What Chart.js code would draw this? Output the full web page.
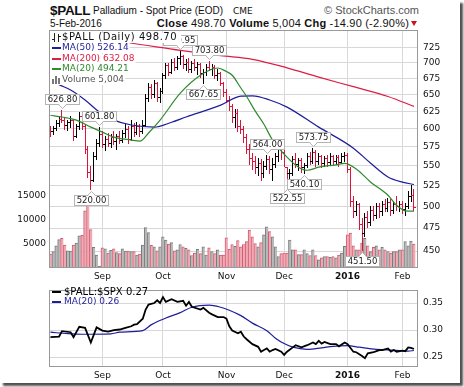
<!DOCTYPE html>
<html>
<head>
<meta charset="utf-8">
<script src="https://cdn.jsdelivr.net/npm/chart.js@4.4.1/dist/chart.umd.min.js"></script>
<style>
html,body{margin:0;padding:0;background:#fff;width:464px;height:387px;overflow:hidden;}
#frame{position:absolute;left:0;top:0;width:460px;height:383px;background:#fff;box-shadow:3px 3px 2px #505050;}
canvas{position:absolute;left:0;}
#c1{top:0;width:464px;height:286px;}
#c2{top:280px;width:464px;height:107px;}
.t{position:absolute;white-space:nowrap;line-height:1;color:#111;}
#tri{position:absolute;left:411px;top:21px;width:0;height:0;border-left:3px solid transparent;border-right:3px solid transparent;border-top:5px solid #cc1020;}
</style>
</head>
<body>
<div id="frame"></div>
<div class="t" style="left:50px;top:3px;font:bold 13.5px 'Liberation Sans',Arial,sans-serif;letter-spacing:-0.3px;">$PALL</div>
<div class="t" style="left:93px;top:5px;font:10px 'Liberation Sans',Arial,sans-serif;">Palladium - Spot Price (EOD)</div>
<div class="t" style="left:233px;top:6px;font:9px 'DejaVu Sans',sans-serif;">CME</div>
<div class="t" style="right:45px;top:4px;font:11px 'Liberation Sans',Arial,sans-serif;color:#555;">© StockCharts.com</div>
<div class="t" style="left:50px;top:18px;font:10px 'Liberation Sans',Arial,sans-serif;">5-Feb-2016</div>
<div class="t" style="right:55px;top:17px;font:11px 'Liberation Sans',Arial,sans-serif;letter-spacing:0.2px;"><b>Close</b> 498.70 <b>Volume</b> 5,004 <b>Chg</b> -14.90 (-2.90%)</div>
<div id="tri"></div>
<canvas id="c1" width="464" height="286"></canvas>
<canvas id="c2" width="464" height="107"></canvas>
<script>
// ---------- DATA ----------
// trading-day index 0 = 6-Aug-2015 ... 126 = 5-Feb-2016
const monthTickIdx = [18, 39, 61, 81, 103, 122];
const monthTickLbl = ['Sep', 'Oct', 'Nov', 'Dec', '2016', 'Feb'];

const opens = [598,596,601,608,614,612,605,609,612,590,603,618,604,572,542,532,562,580,592,578,
586,580,588,583,589,584,594,600,586,604,595,603,596,605,645,662,650,668,646,655,
680,696,686,702,694,708,712,698,702,690,700,694,698,684,686,694,690,694,680,684,
668,654,642,632,616,622,604,600,588,572,560,556,548,554,540,550,558,546,552,562,
574,568,548,540,528,558,552,557,548,551,562,556,568,556,562,553,560,555,562,556,
561,555,562,564,546,506,494,502,480,470,488,482,496,490,500,494,502,498,505,496,
503,500,502,497,500,512,513.6];
const highs = [604,603,612,618,626.8,616,612,618,614,606,624,620,607,576,550,568,586,601.8,596,590,
594,592,596,592,597,598,606,604,612,608,610,606,612,650,668,666,672,670,660,684,
700,700,706,708,712,719.95,714,706,708,704,706,702,700,690,698,703.8,698,696,690,686,
670,658,648,636,628,628,612,604,592,578,566,562,560,558,556,564,562,560,566,580,
576,570,548,546,562,566,560,560,554,566,568,573.75,570,566,564,562,564,566,564,564,
564,566,568,566,548,512,506,504,486,492,494,500,500,504,504,506,508,510,508,506,
512,506,506,504,518,526,520];
const lows = [590,592,598,603,610,600,598,602,584,588,600,600,566,535,520,530,558,576,574,570,
576,575,578,572,580,582,588,580,584,590,592,590,594,603,640,645,646,640,638,652,
676,680,684,688,690,698,692,688,686,686,688,682,678,667.65,680,688,680,676,672,664,
648,638,626,610,602,596,594,582,566,552,546,540,538,532,536,545,540,532,548,556,
558,550,522.55,524,538,548,544,542,540.1,548,552,554,550,552,548,550,550,552,552,552,
550,553,556,542,500,488,490,474,451.5,466,476,478,484,486,488,490,494,494,490,492,
496,494,492,490,498,506,496];
const closes = [596,601,608,614,612,605,609,612,590,603,618,604,572,542,532,562,580,592,578,586,
580,588,583,589,584,594,600,586,604,595,603,596,605,645,662,650,668,646,655,680,
696,686,702,694,708,712,698,702,690,700,694,698,684,686,694,690,694,680,684,668,
654,642,632,616,622,604,600,588,572,560,556,548,554,540,550,558,546,552,562,574,
568,548,528,540,558,552,557,548,551,562,556,568,556,562,553,560,555,562,556,561,
555,562,564,546,506,494,502,480,470,488,482,496,490,500,494,502,498,505,496,503,
500,502,497,500,512,513.6,498.7];
const volumes = [2900,3400,4600,5900,6200,4800,3600,3500,4800,5200,6700,6800,11900,13400,8000,4300,2700,400,4200,4000,
3100,3700,4000,3200,3000,4000,3500,3500,3400,3400,2700,2900,4800,8400,7400,4700,4400,3600,4400,6500,
5800,5000,5300,3600,3800,4900,4400,4100,3800,2600,3100,3900,3000,4400,2700,4200,3400,3000,3800,2700,
2700,6300,3900,4900,4500,5700,4400,4900,5500,7900,6500,5100,4400,5300,6900,8600,7600,6500,4400,2400,
3000,3100,3100,5800,3800,3800,2800,2800,3800,3000,2600,3800,2600,1700,2100,2400,2400,2200,2400,2100,
2700,3100,4500,6900,7300,4600,3800,3800,5200,6200,4600,3400,4300,4600,3800,4300,3800,3400,3100,3400,
3400,3800,3800,5500,4600,5600,5004];

const ma20Idx = [0,4,9,14,18,22,28,31,34,38,45,52,58,61,63,66,68,71,74,77,82,86,89,93,99,102,106,111,117,120,123,126];
const ma20Val = [619,616.5,612,602,595,588,584,582.5,593.8,612,652,680,691.7,686,680,660,647,625,606,584,561,548,544,548,551,553,545.6,529,513,501,494.6,494.21];
const ma50Idx = [0,3,7,12,17,22,28,36,42,47,59,66,70,76,82,93,105,111,117,122,126];
const ma50Val = [672,665,657,641.7,623.7,612,605,602,609,616.5,634,647.6,648,641.7,631,602,573,553,535.5,529,526.14];
const ma200Idx = [0,14,27,45,59,70,82,93,105,117,126];
const ma200Val = [750,742,734,721,712,706,692,677,662,647,632.08];

const ratioIdx = [0,3,4,7,8,10,12,14,16,18,20,22,24,26,28,29,30,32,33,34,36,37,38,39,40,42,44,46,47,48,49,52,53,55,56,58,60,61,62,63,65,66,67,68,70,72,73,74,75,76,77,78,80,81,82,84,85,87,89,91,92,93,94,95,97,99,100,102,103,105,106,108,109,110,112,113,114,115,117,118,119,120,122,123,124,125,126];
const ratioVal = [0.287,0.288,0.298,0.296,0.287,0.306,0.304,0.277,0.305,0.299,0.297,0.300,0.301,0.304,0.307,0.310,0.311,0.321,0.338,0.347,0.350,0.355,0.350,0.361,0.352,0.357,0.352,0.354,0.345,0.352,0.343,0.338,0.341,0.332,0.329,0.324,0.324,0.321,0.307,0.299,0.294,0.297,0.288,0.283,0.274,0.269,0.260,0.263,0.266,0.260,0.263,0.265,0.260,0.254,0.260,0.268,0.272,0.268,0.272,0.277,0.274,0.280,0.275,0.278,0.274,0.274,0.270,0.277,0.274,0.260,0.259,0.252,0.248,0.257,0.259,0.261,0.263,0.263,0.266,0.260,0.263,0.260,0.262,0.261,0.268,0.267,0.265];
const ratioMaIdx = [0,6,11,21,24,32,35,40,45,49,55,59,62,66,70,75,78,81,84,89,94,98,103,107,113,119,124,126];
const ratioMaVal = [0.296,0.2933,0.2922,0.293,0.296,0.2989,0.31,0.3222,0.3322,0.3422,0.3461,0.3422,0.3367,0.3267,0.3128,0.2989,0.285,0.275,0.2683,0.2644,0.2672,0.27,0.2711,0.2683,0.2644,0.2628,0.2611,0.2622];

const priceTicks = [450,475,500,525,550,575,600,625,650,675,700,725];
const volTicks = [5000,10000,15000];
const ratioTicks = [0.25,0.30,0.35];

// price annotations: bar index, value, side
const annIdx  = [4, 17, 14, 45, 55, 53, 75, 91, 88, 82, 108];
const annVal  = [626.80, 601.80, 520.00, 719.95, 703.80, 667.65, 564.00, 573.75, 540.10, 522.55, 451.50];
const annSide = ['up','up','down','up','up','down','up','up','down','down','down'];

// ---------- STYLE ----------
const FONT = "'DejaVu Sans', sans-serif";
const GRID = '#d8d8d8';
const FRAME = '#999';
const RED = '#dc143c';
const NAVY = '#1e1e9a';
const CRIMSON = '#dc1e46';
const GREEN = '#2e8b2e';

const isDown = closes.map((c, i) => i === 0 ? c < opens[0] : c < closes[i - 1]);

function xScale(h) {
  return {
    type: 'linear', min: -0.5, max: 127.4, offset: false,
    afterBuildTicks: s => { s.ticks = monthTickIdx.map(v => ({ value: v })); },
    afterFit: s => { s.height = h; },
    grid: { color: GRID, lineWidth: 1, drawTicks: false, offset: false },
    border: { display: false },
    ticks: {
      autoSkip: false, maxRotation: 0, padding: 3, color: '#111',
      font: ctx => ({ family: FONT, size: 9, weight: (ctx.tick && monthTickLbl[monthTickIdx.indexOf(ctx.tick.value)] === '2016') ? 'bold' : 'normal' }),
      callback: v => { const k = monthTickIdx.indexOf(v); return k >= 0 ? monthTickLbl[k] : ''; }
    }
  };
}

function frameArea(chart) {
  const { ctx, chartArea: a } = chart;
  ctx.save();
  ctx.strokeStyle = FRAME; ctx.lineWidth = 1;
  ctx.strokeRect(Math.round(a.left) + 0.5, Math.round(a.top) + 0.5, Math.round(a.right - a.left) - 1, Math.round(a.bottom - a.top) - 1);
  ctx.restore();
}

function drawLabel(ctx, cx, py, text, above) {
  ctx.font = "8.5px " + FONT;
  const w = Math.round(ctx.measureText(text).width) + 4, h = 10;
  const left = Math.round(cx - w / 2) + 0.5;
  const top = above ? Math.round(py) - 6 - h + 0.5 : Math.round(py) + 6 + 0.5;
  ctx.fillStyle = '#fff'; ctx.fillRect(left, top, w, h);
  ctx.strokeStyle = '#b4b4b4'; ctx.lineWidth = 1; ctx.strokeRect(left, top, w, h);
  const pcx = Math.round(cx) + 0.5;
  ctx.beginPath();
  if (above) { const b = top + h; ctx.moveTo(pcx - 4, b); ctx.lineTo(pcx, b + 4); ctx.lineTo(pcx + 4, b); }
  else { ctx.moveTo(pcx - 4, top); ctx.lineTo(pcx, top - 4); ctx.lineTo(pcx + 4, top); }
  ctx.fillStyle = '#fff'; ctx.fill(); ctx.stroke();
  ctx.fillRect(pcx - 3, above ? top + h - 0.5 : top - 0.5, 6, 1);
  ctx.fillStyle = '#222'; ctx.textAlign = 'center'; ctx.textBaseline = 'middle';
  ctx.fillText(text, left + w / 2, top + h / 2 + 0.5);
}

const mainPlugin = {
  id: 'mainPanel',
  beforeDatasetDraw(chart, args) {
    const ds = chart.data.datasets[args.index];
    if (ds.label !== '$PALL') return;
    const ctx = chart.ctx, ys = chart.scales.y, a = chart.chartArea;
    ctx.save();
    ctx.beginPath(); ctx.rect(a.left, a.top, a.right - a.left, a.bottom - a.top); ctx.clip();
    ctx.lineWidth = 1;
    args.meta.data.forEach((el, i) => {
      const px = Math.round(el.x - 0.5);
      const yTop = Math.round(el.y), yBot = Math.round(el.base);
      const yo = Math.round(ys.getPixelForValue(opens[i]));
      const yc = Math.round(ys.getPixelForValue(closes[i]));
      ctx.strokeStyle = isDown[i] ? RED : '#000';
      ctx.beginPath();
      ctx.moveTo(px + 0.5, yTop); ctx.lineTo(px + 0.5, yBot + 1);
      ctx.moveTo(px - 2, yo + 0.5); ctx.lineTo(px, yo + 0.5);
      ctx.moveTo(px + 1, yc + 0.5); ctx.lineTo(px + 3, yc + 0.5);
      ctx.stroke();
    });
    ctx.restore();
    return false;
  },
  afterDatasetsDraw(chart) {
    const ctx = chart.ctx, xs = chart.scales.x, ys = chart.scales.y;
    frameArea(chart);
    ctx.save();
    annIdx.forEach((idx, k) => {
      drawLabel(ctx, xs.getPixelForValue(idx), ys.getPixelForValue(annVal[k]), annVal[k].toFixed(2), annSide[k] === 'up');
    });
    ctx.restore();
  },
  afterDraw(chart) {
    const ctx = chart.ctx;
    ctx.save();
    ctx.textBaseline = 'middle'; ctx.textAlign = 'left';
    const rows = [
      { t: '$PALL (Daily) 498.70', c: '#111', icon: 'ohlc', y: 37.5, f: 10, ls: '0.55px', cover: 181 },
      { t: 'MA(50) 526.14', c: NAVY, icon: 'line', y: 48, f: 9 },
      { t: 'MA(200) 632.08', c: CRIMSON, icon: 'line', y: 58.5, f: 9 },
      { t: 'MA(20) 494.21', c: GREEN, icon: 'line', y: 69, f: 9 },
      { t: 'Volume 5,004', c: '#555', icon: 'vol', y: 79.5, f: 9 }
    ];
    rows.forEach(r => {
      ctx.font = r.f + "px " + FONT;
      if ('letterSpacing' in ctx) ctx.letterSpacing = r.ls || '0px';
      const w = ctx.measureText(r.t).width;
      ctx.fillStyle = '#fff';
      const right = r.cover ? Math.max(r.cover, 62 + w + 1) : 62 + w + 1;
      ctx.fillRect(50, Math.round(r.y - 5), right - 50, 10);
      ctx.fillStyle = r.c;
      ctx.fillText(r.t, 62, r.y);
      if (r.icon === 'line') {
        ctx.strokeStyle = r.c; ctx.lineWidth = 2;
        ctx.beginPath(); ctx.moveTo(52, Math.round(r.y)); ctx.lineTo(61, Math.round(r.y)); ctx.stroke();
      } else if (r.icon === 'ohlc') {
        ctx.strokeStyle = '#222'; ctx.lineWidth = 1;
        ctx.beginPath();
        ctx.moveTo(54.5, 33); ctx.lineTo(54.5, 42); ctx.moveTo(52, 39.5); ctx.lineTo(54, 39.5);
        ctx.moveTo(58.5, 34); ctx.lineTo(58.5, 42); ctx.moveTo(59, 36.5); ctx.lineTo(61, 36.5);
        ctx.stroke();
      } else {
        ctx.fillStyle = '#777';
        ctx.fillRect(52, 79, 2, 5); ctx.fillRect(55, 76, 2, 8); ctx.fillRect(58, 78, 2, 6);
      }
    });
    ctx.restore();
  }
};

new Chart(document.getElementById('c1'), {
  type: 'line',
  data: {
    datasets: [
      { type: 'bar', label: 'Volume', xAxisID: 'x', yAxisID: 'vol', order: 10, grouped: false,
        data: volumes.map((v, i) => ({ x: i, y: v })),
        backgroundColor: volumes.map((v, i) => isDown[i] ? '#efaab4' : '#b9b9b9'),
        borderColor: volumes.map((v, i) => isDown[i] ? '#d45a70' : '#7a7a7a'),
        borderWidth: { left: 1, top: 1, right: 0, bottom: 0 },
        barPercentage: 1, categoryPercentage: 1 },
      { type: 'bar', label: '$PALL', xAxisID: 'x', yAxisID: 'y', order: 5, grouped: false,
        data: highs.map((h, i) => ({ x: i, y: [lows[i], h] })),
        backgroundColor: closes.map((c, i) => isDown[i] ? RED : '#000'),
        barThickness: 1 },
      { type: 'line', label: 'MA(200)', yAxisID: 'y', order: 3,
        data: ma200Idx.map((x, k) => ({ x, y: ma200Val[k] })),
        borderColor: CRIMSON, borderWidth: 1.2, pointRadius: 0, cubicInterpolationMode: 'monotone', fill: false },
      { type: 'line', label: 'MA(50)', yAxisID: 'y', order: 2,
        data: ma50Idx.map((x, k) => ({ x, y: ma50Val[k] })),
        borderColor: NAVY, borderWidth: 1.2, pointRadius: 0, cubicInterpolationMode: 'monotone', fill: false },
      { type: 'line', label: 'MA(20)', yAxisID: 'y', order: 1,
        data: ma20Idx.map((x, k) => ({ x, y: ma20Val[k] })),
        borderColor: GREEN, borderWidth: 1.2, pointRadius: 0, cubicInterpolationMode: 'monotone', fill: false }
    ]
  },
  options: {
    responsive: false, animation: false, devicePixelRatio: 1,
    layout: { padding: { top: 30, left: 0, right: 0, bottom: 0 } },
    plugins: { legend: { display: false }, tooltip: { enabled: false } },
    scales: {
      x: xScale(18),
      y: {
        type: 'logarithmic', position: 'right', min: 432.4, max: 756.3,
        afterBuildTicks: s => { s.ticks = priceTicks.map(v => ({ value: v })); },
        afterFit: s => { s.width = 46; },
        grid: { color: GRID, drawTicks: false }, border: { display: false },
        ticks: { padding: 5, color: '#111', font: { family: FONT, size: 9 }, callback: v => String(v) }
      },
      vol: {
        type: 'linear', position: 'left', min: 0, max: 49583,
        afterBuildTicks: s => { s.ticks = volTicks.map(v => ({ value: v })); },
        afterFit: s => { s.width = 49; },
        grid: { display: false, drawTicks: false }, border: { display: false },
        ticks: { padding: 3, color: '#111', font: { family: FONT, size: 9 }, callback: v => String(v) }
      }
    }
  },
  plugins: [mainPlugin]
});

const ratioPlugin = {
  id: 'ratioPanel',
  afterDatasetsDraw(chart) { frameArea(chart); },
  afterDraw(chart) {
    const ctx = chart.ctx;
    ctx.save();
    ctx.textBaseline = 'middle';
    const rows = [{ t: '$PALL:$SPX 0.27', c: '#000', y: 12, f: 10 }, { t: 'MA(20) 0.26', c: NAVY, y: 22, f: 9 }];
    rows.forEach(r => {
      ctx.font = r.f + "px " + FONT;
      ctx.strokeStyle = r.c; ctx.lineWidth = 2;
      ctx.beginPath(); ctx.moveTo(52, r.y); ctx.lineTo(61, r.y); ctx.stroke();
      ctx.fillStyle = r.c; ctx.fillText(r.t, 64, r.y);
    });
    ctx.restore();
  }
};

new Chart(document.getElementById('c2'), {
  type: 'line',
  data: {
    datasets: [
      { label: '$PALL:$SPX', data: ratioIdx.map((x, k) => ({ x, y: ratioVal[k] })),
        borderColor: '#000', borderWidth: 1.8, pointRadius: 0, tension: 0, fill: false, order: 1 },
      { label: 'MA(20)', data: ratioMaIdx.map((x, k) => ({ x, y: ratioMaVal[k] })),
        borderColor: NAVY, borderWidth: 1.2, pointRadius: 0, cubicInterpolationMode: 'monotone', fill: false, order: 2 }
    ]
  },
  options: {
    responsive: false, animation: false, devicePixelRatio: 1,
    layout: { padding: { top: 3, left: 49, right: 0, bottom: 0 } },
    plugins: { legend: { display: false }, tooltip: { enabled: false } },
    scales: {
      x: xScale(20),
      y: {
        type: 'linear', position: 'right', min: 0.2317, max: 0.3733,
        afterBuildTicks: s => { s.ticks = ratioTicks.map(v => ({ value: v })); },
        afterFit: s => { s.width = 46; },
        grid: { color: GRID, drawTicks: false }, border: { display: false },
        ticks: { padding: 5, color: '#111', font: { family: FONT, size: 9 }, callback: v => v.toFixed(2) }
      }
    }
  },
  plugins: [ratioPlugin]
});
</script>
</body>
</html>
